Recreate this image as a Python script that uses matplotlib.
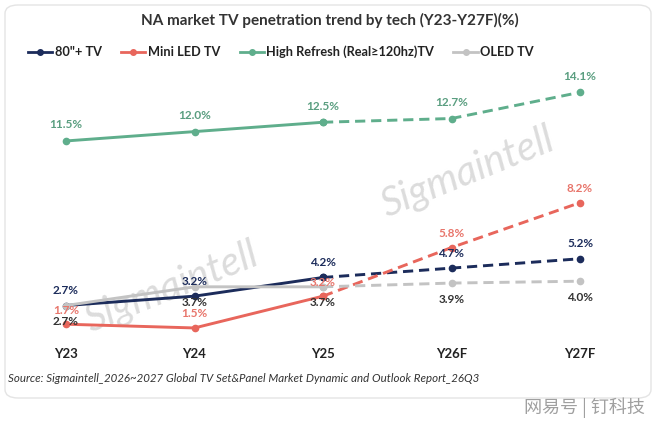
import matplotlib
matplotlib.use('Agg')
import matplotlib.pyplot as plt
from matplotlib.lines import Line2D
from matplotlib.patches import FancyBboxPatch

plt.rcParams['font.family'] = ['Lato', 'DejaVu Sans']

# ── Data ────────────────────────────────────────────────────────
years = ['Y23', 'Y24', 'Y25', 'Y26F', 'Y27F']
tv80 = [2.7, 3.2, 4.2, 4.7, 5.2]
mini_led = [1.7, 1.5, 3.2, 5.8, 8.2]
high_refresh = [11.5, 12.0, 12.5, 12.7, 14.1]
oled = [2.7, 3.7, 3.7, 3.9, 4.0]

series = [
    ('80"+ TV', tv80, '#1c2c5b', '#1c2c5b', 15),
    ('Mini LED TV', mini_led, '#e8665c', '#e8756b', 14),
    ('High Refresh (Real≥120hz)TV', high_refresh, '#5fae8c', '#5a9e80', 16),
    ('OLED TV', oled, '#c3c3c3', '#333333', -16),
]

W, H = 660, 426
fig = plt.figure(figsize=(W / 100, H / 100), dpi=100)

# rounded panel (drawn behind the axes)
fig.patches.append(FancyBboxPatch((5 / W, 1 - 398 / H), 646 / W, 393 / H,
                                  boxstyle='round,pad=0,rounding_size=0.02',
                                  transform=fig.transFigure, fc='white',
                                  ec='#e4e4e4', lw=1.0, zorder=-5))

# watermarks
for cx, cy in [(172, 287), (468, 172)]:
    fig.text(cx / W, 1 - cy / H, 'Sigmaintell', fontsize=29, fontstyle='italic',
             color='#dcdcdc', rotation=22, ha='center', va='center', zorder=-1)

# axes: x index 0 at px 66, spacing 128.5 ; y = 356 - 18.7*v
ax_left, ax_right = 66 - 0.5 * 128.5, 580 + 0.5 * 128.5
ax_top, ax_bot = 70, 340
ax = fig.add_axes([ax_left / W, 1 - ax_bot / H, (ax_right - ax_left) / W, (ax_bot - ax_top) / H])
ax.set_facecolor('none')
ax.set_zorder(2)
ax.set_xlim(-0.5, 4.5)
ax.set_ylim((356 - ax_bot) / 18.7, (356 - ax_top) / 18.7)

x = list(range(len(years)))
for name, vals, color, lcolor, off in series:
    ax.plot(x[:3], vals[:3], color=color, lw=2.1, marker='o', ms=4.5, zorder=3)
    ax.plot(x[2:], vals[2:], color=color, lw=2.1, ls=(0, (3.5, 2)), marker='o', ms=4.5, zorder=3)
    for xi, v in zip(x, vals):
        ax.annotate(f'{v:.1f}%', (xi, v), xytext=(0, off), textcoords='offset pixels',
                    ha='center', va='center', fontsize=8.5, fontweight='bold',
                    color=lcolor, zorder=4)

ax.set_xticks(x)
ax.set_xticklabels(years, fontsize=9.5, fontweight='bold', color='#222222')
ax.tick_params(axis='x', length=0, pad=6)
ax.set_yticks([])
for s in ax.spines.values():
    s.set_visible(False)

fig.text(330 / W, 1 - 20 / H, 'NA market TV penetration trend by tech (Y23-Y27F)(%)',
         ha='center', va='center', fontsize=11, fontweight='bold', color='#333333')

handles = [Line2D([], [], color=c, lw=2.0, marker='o', ms=4) for _, _, c, _, _ in series]
fig.legend(handles, [s[0] for s in series], loc='center', ncol=4,
           bbox_to_anchor=(281 / W, 1 - 52 / H), frameon=False,
           prop={'size': 9.2, 'weight': 'bold'}, handlelength=1.9,
           handletextpad=0.2, columnspacing=1.5, labelcolor='#222222')

fig.text(8 / W, 1 - 378 / H,
         'Source: Sigmaintell_2026~2027 Global TV Set&Panel Market Dynamic and Outlook Report_26Q3',
         ha='left', va='center', fontsize=8.3, fontstyle='italic', color='#333333')

fig.text(645 / W, 1 - 408 / H, '网易号 | 钉科技', ha='right', va='center', fontsize=13,
         color='#a0a0a0', family=['Noto Sans CJK SC', 'DejaVu Sans'])

fig.savefig('out.png', dpi=100)
